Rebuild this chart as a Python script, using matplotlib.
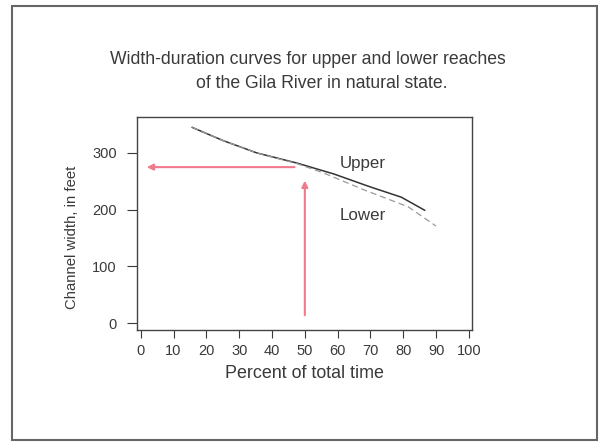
import matplotlib.pyplot as plt
from matplotlib.patches import Rectangle

plt.rcParams['font.family'] = ['Liberation Sans', 'DejaVu Sans']

# width-duration curves
upper_pct = [15.7, 25, 35.4, 47.7, 58.8, 70, 79.4, 86.5]
upper_width = [345, 322, 300, 282, 263, 240, 222, 199]
lower_pct = [15.7, 25, 35.4, 47.7, 56, 68, 81.5, 90]
lower_width = [345, 322, 300, 281, 264, 235, 205, 171]

pct_ticks = [0, 10, 20, 30, 40, 50, 60, 70, 80, 90, 100]
width_ticks = [0, 100, 200, 300]

# example reading: 50 percent of time -> about 275 ft
read_pct = 50
read_width = 275

ink = '#3a3a3a'
pink = '#f07a8c'

fig = plt.figure(figsize=(6, 4.44), dpi=100)
fig.patches.append(Rectangle((0.02, 0.008), 0.975, 0.978, transform=fig.transFigure,
                             fill=False, edgecolor='#666666', linewidth=1.5))

ax = fig.add_axes([0.228, 0.257, 0.559, 0.479])
ax.plot(upper_pct, upper_width, color='#333333', linewidth=1.1)
ax.plot(lower_pct, lower_width, color='#9a9a9a', linewidth=0.9, linestyle=(0, (5, 3)))

# reading arrows
ax.annotate('', xy=(1, read_width), xytext=(read_pct - 2.3, read_width),
            arrowprops=dict(arrowstyle='-|>', color=pink, lw=1.5, mutation_scale=9))
ax.annotate('', xy=(read_pct, read_width - 19), xytext=(read_pct, 9),
            arrowprops=dict(arrowstyle='-|>', color=pink, lw=1.5, mutation_scale=9))

ax.text(67.7, 282, 'Upper', fontsize=12.2, color=ink, ha='center', va='center')
ax.text(67.7, 190, 'Lower', fontsize=12.2, color=ink, ha='center', va='center')

ax.set_xlim(-1.2, 101)
ax.set_ylim(-12, 363)
ax.set_xticks(pct_ticks)
ax.set_yticks(width_ticks)
ax.tick_params(direction='out', color=ink, labelcolor=ink, labelsize=10.5)
ax.tick_params(axis='y', length=7.5, pad=7)
ax.tick_params(axis='x', length=6, pad=4)
for s in ax.spines.values():
    s.set_color('#444444')
    s.set_linewidth(1.0)

fig.text(304 / 600, 1 - 374 / 444, 'Percent of total time',
         fontsize=12.9, color=ink, ha='center', va='center')
fig.text(72 / 600, 1 - 237 / 444, 'Channel width, in feet',
         fontsize=10.7, color=ink, ha='center', va='center', rotation=90)

fig.text(307.5 / 600, 1 - 60 / 444, 'Width-duration curves for upper and lower reaches',
         fontsize=12.7, color=ink, ha='center', va='center')
fig.text(321.5 / 600, 1 - 83 / 444, 'of the Gila River in natural state.',
         fontsize=12.7, color=ink, ha='center', va='center')

fig.savefig('out.png', dpi=100)
